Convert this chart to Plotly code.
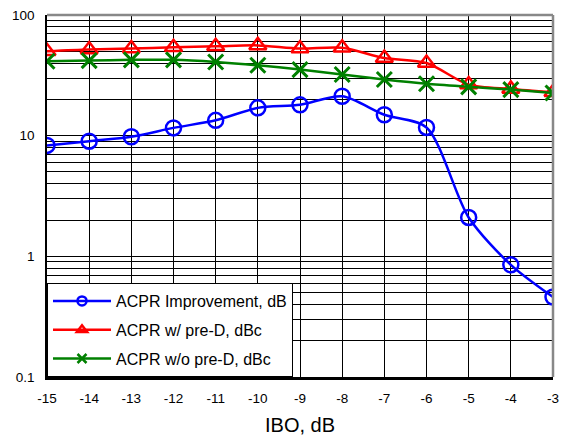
import plotly.graph_objects as go

ibo = [-15, -14, -13, -12, -11, -10, -9, -8, -7, -6, -5, -4, -3]
acpr_improvement = [8.3, 9.0, 9.8, 11.6, 13.4, 17.0, 18.0, 21.2, 14.9, 11.7, 2.1, 0.85, 0.46]
acpr_with_pred = [50.1, 51.8, 52.7, 54.0, 55.0, 56.0, 52.7, 53.5, 44.0, 40.0, 26.5, 24.4, 22.9]
acpr_without_pred = [41.4, 41.9, 42.5, 42.5, 40.8, 38.3, 35.3, 32.1, 29.2, 26.9, 25.4, 24.1, 22.6]

names = ["ACPR Improvement, dB", "ACPR w/ pre-D, dBc", "ACPR w/o pre-D, dBc"]
colors = ["#0000FF", "#FF0000", "#008000"]
symbols = ["circle-open", "triangle-up-open", "x-thin-open"]
series = [acpr_improvement, acpr_with_pred, acpr_without_pred]

y_major = [0.1, 1, 10, 100]
y_major_labels = ["0.1", "1", "10", "100"]
y_minor = [m * 10 ** e for e in (-1, 0, 1) for m in range(2, 10)]

FONT = "Liberation Sans, Arial, sans-serif"

fig = go.Figure()
for name, col, sym, ys, grp in zip(names, colors, symbols, series, "abc"):
    mlw = 3 if sym.startswith("x") else 2.5
    fig.add_trace(go.Scatter(
        x=ibo, y=ys, name=name, mode="lines+markers", showlegend=False,
        line=dict(color=col, width=2.5, shape="spline", smoothing=0.8),
        marker=dict(symbol=sym, size=15, color=col, line=dict(width=mlw, color=col)),
        legendgroup=grp, hoverinfo="x+y"))
    # legend entry with a small marker, like the original
    fig.add_trace(go.Scatter(
        x=[None], y=[None], name=name, mode="lines+markers", showlegend=True,
        line=dict(color=col, width=2.5),
        marker=dict(symbol=sym, size=9, color=col, line=dict(width=2.5, color=col)),
        legendgroup=grp))

fig.update_layout(
    width=569, height=440,
    margin=dict(l=47, r=16, t=15, b=63, autoexpand=False),
    paper_bgcolor="white", plot_bgcolor="white",
    font=dict(family=FONT, color="black", size=13.5),
    showlegend=True,
    legend=dict(
        x=0, y=0, xanchor="left", yanchor="bottom",
        bgcolor="white", bordercolor="black", borderwidth=1,
        font=dict(family=FONT, size=16, color="black"),
        tracegroupgap=5, itemwidth=58, itemsizing="trace",
    ),
    shapes=[
        dict(type="line", xref="paper", yref="paper", x0=0, x1=1, y0=1, y1=1,
             line=dict(color="#888888", width=2.5)),
        dict(type="line", xref="paper", yref="paper", x0=1, x1=1, y0=0, y1=1,
             line=dict(color="#888888", width=2.5)),
    ],
)

fig.update_xaxes(
    range=[-15, -3], tickmode="array", tickvals=ibo, ticktext=[str(v) for v in ibo],
    showgrid=True, gridcolor="black", gridwidth=1,
    showline=True, linecolor="black", linewidth=2.5,
    ticks="inside", ticklen=5, tickcolor="black",
    ticklabelstandoff=7, zeroline=False, automargin=False,
    tickfont=dict(size=13.5),
    title=dict(text="IBO, dB", font=dict(size=20), standoff=14),
)
fig.update_yaxes(
    type="log", range=[-1, 2], tickmode="array", tickvals=y_major, ticktext=y_major_labels,
    showgrid=True, gridcolor="black", gridwidth=1,
    showline=True, linecolor="black", linewidth=1.5,
    ticks="inside", ticklen=5, tickcolor="black",
    ticklabelstandoff=8, zeroline=False, automargin=False,
    tickfont=dict(size=13.5),
    minor=dict(tickmode="array", tickvals=y_minor, showgrid=True, gridcolor="black", gridwidth=1, ticks=""),
)

fig.write_html("out.html", config={"displayModeBar": False},
               post_script="document.body.style.margin='0';")
